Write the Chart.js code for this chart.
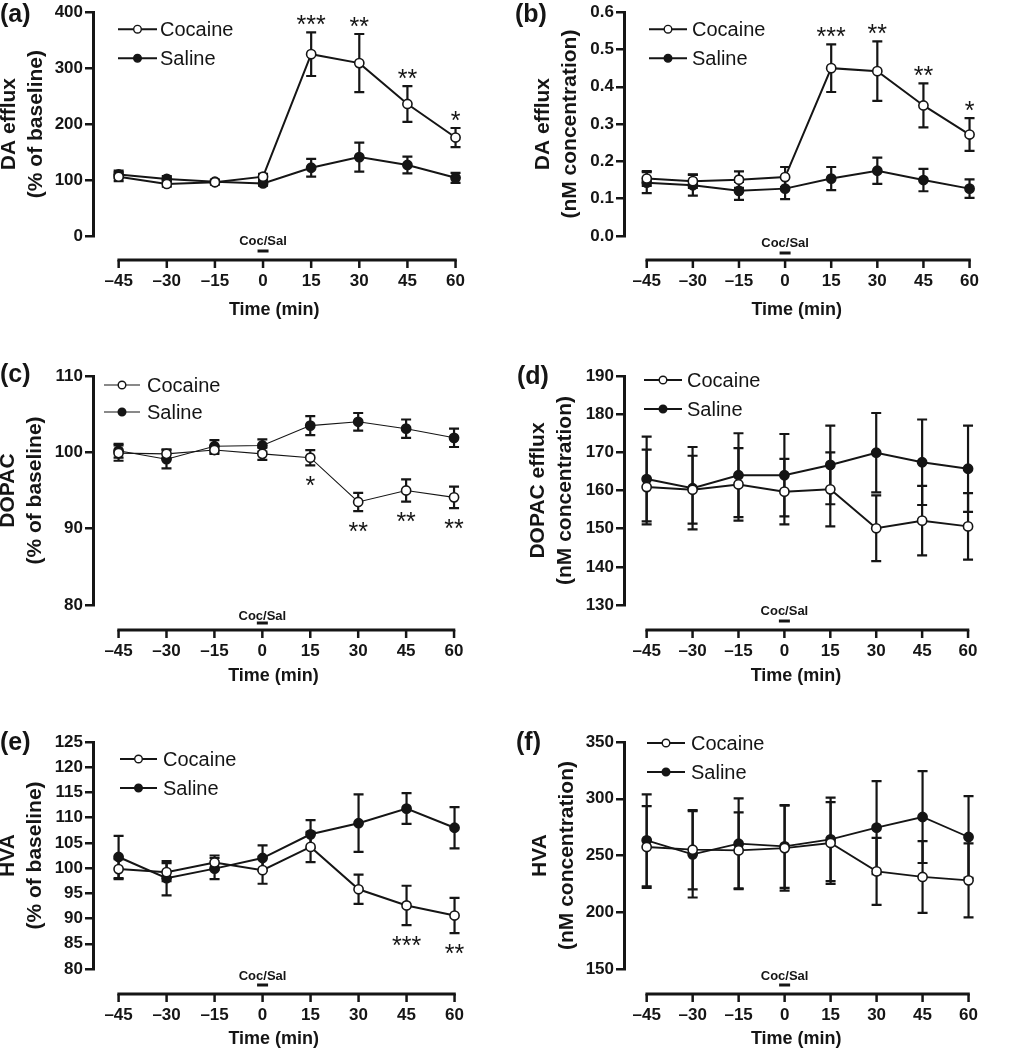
<!DOCTYPE html>
<html><head><meta charset="utf-8">
<script src="https://cdn.jsdelivr.net/npm/chart.js@4.4.1/dist/chart.umd.min.js"></script>
<style>
html,body{margin:0;padding:0;background:#fff}
body{position:relative;width:1014px;height:1050px;overflow:hidden}
.panel{position:absolute}
.panel canvas{display:block}
</style></head><body>
<div class="panel" style="left:0;top:0"><canvas id="ca" width="500" height="330"></canvas></div>
<div class="panel" style="left:500px;top:0"><canvas id="cb" width="514" height="330"></canvas></div>
<div class="panel" style="left:0;top:355px"><canvas id="cc" width="500" height="344"></canvas></div>
<div class="panel" style="left:500px;top:355px"><canvas id="cd" width="514" height="344"></canvas></div>
<div class="panel" style="left:0;top:721px"><canvas id="ce" width="500" height="329"></canvas></div>
<div class="panel" style="left:500px;top:721px"><canvas id="cf" width="514" height="329"></canvas></div>
<script>
// ---------------- DATA ----------------
const timePoints = [-45, -30, -15, 0, 15, 30, 45, 60];
const xTickLabels = ['\u201345', '\u201330', '\u201315', '0', '15', '30', '45', '60'];
const seriesNames = ['Cocaine', 'Saline'];
const xAxisTitle = 'Time (min)';
const injectionLabel = 'Coc/Sal';

// (a) DA efflux, % of baseline
const daPctCocaine    = [106, 93, 96, 106, 325, 309, 236, 176];
const daPctCocaineErr = [8, 5, 4, 5, 39, 52, 32, 17];
const daPctSaline     = [110, 102, 97, 94, 122, 141, 127, 104];
const daPctSalineErr  = [7, 5, 4, 4, 16, 26, 15, 9];
const daPctStarTimes  = [15, 30, 45, 60];
const daPctStars      = ['***', '**', '**', '*'];

// (b) DA efflux, nM
const daNmCocaine    = [0.154, 0.147, 0.151, 0.158, 0.450, 0.442, 0.350, 0.272];
const daNmCocaineErr = [0.020, 0.018, 0.022, 0.027, 0.064, 0.080, 0.059, 0.044];
const daNmSaline     = [0.143, 0.136, 0.121, 0.127, 0.154, 0.175, 0.150, 0.127];
const daNmSalineErr  = [0.028, 0.028, 0.024, 0.028, 0.031, 0.035, 0.030, 0.025];
const daNmStarTimes  = [15, 30, 45, 60];
const daNmStars      = ['***', '**', '**', '*'];

// (c) DOPAC, % of baseline
const dopacPctCocaine    = [99.9, 99.8, 100.3, 99.8, 99.3, 93.5, 95.0, 94.1];
const dopacPctCocaineErr = [1.0, 0.6, 0.5, 0.8, 1.0, 1.2, 1.45, 1.4];
const dopacPctSaline     = [100.2, 99.1, 100.8, 100.9, 103.5, 104.0, 103.1, 101.9];
const dopacPctSalineErr  = [0.9, 1.2, 0.8, 0.8, 1.25, 1.15, 1.2, 1.2];
const dopacPctStarTimes  = [15, 30, 45, 60];
const dopacPctStars      = ['*', '**', '**', '**'];

// (d) DOPAC efflux, nM
const dopacNmCocaine    = [160.9, 160.2, 161.6, 159.7, 160.3, 150.1, 152.1, 150.6];
const dopacNmCocaineErr = [9.8, 8.9, 9.5, 8.6, 9.7, 8.6, 9.1, 8.7];
const dopacNmSaline     = [163.0, 160.6, 164.0, 164.0, 166.7, 169.9, 167.4, 165.7];
const dopacNmSalineErr  = [11.1, 10.8, 11.0, 10.8, 10.3, 10.4, 11.2, 11.3];

// (e) HVA, % of baseline
const hvaPctCocaine    = [99.8, 99.2, 101.1, 99.6, 104.2, 95.8, 92.6, 90.6];
const hvaPctCocaineErr = [2.0, 1.8, 1.4, 2.7, 3.0, 2.9, 3.9, 3.5];
const hvaPctSaline     = [102.2, 98.0, 99.9, 102.0, 106.7, 108.9, 111.8, 108.0];
const hvaPctSalineErr  = [4.2, 3.4, 2.1, 2.5, 2.8, 5.7, 3.05, 4.1];
const hvaPctStarTimes  = [45, 60];
const hvaPctStars      = ['***', '**'];

// (f) HVA, nM
const hvaNmCocaine    = [257.5, 255.1, 254.5, 256.5, 261.0, 236.0, 231.1, 228.1];
const hvaNmCocaineErr = [36, 35, 33.5, 37.5, 36, 29.5, 31.6, 32.6];
const hvaNmSaline     = [263.4, 251.0, 260.4, 258.0, 264.2, 274.5, 283.9, 266.3];
const hvaNmSalineErr  = [40.5, 38, 40, 36.5, 36.8, 41, 40.5, 36];

// ---------------- STYLE / LAYOUT ----------------
const INK = '#151515';
const FONT = '"Liberation Sans", Arial, Helvetica, sans-serif';

const colLeft  = { yW: 93,  padRight: 26, xMin: -53 };
const colRight = { yW: 124, padRight: 10, xMin: -52.4 };
const row1 = { padTop: 7,  xH: 94, gap: 24, tickPad: 35,   titlePB: 9 };
const row2 = { padTop: 21, xH: 94, gap: 25, tickPad: 36.5, titlePB: 12 };
const row3 = { padTop: 21, xH: 81, gap: 25, tickPad: 36,   titlePB: 0 };

const panels = [
  { canvas: 'ca', label: '(a)', col: colLeft, row: row1,
    yTitle: ['DA efflux', '(% of baseline)'], yMin: 0, yMax: 400, yStep: 100, yDec: 0, yTitlePad: -4.5,
    coc: daPctCocaine, cocErr: daPctCocaineErr, sal: daPctSaline, salErr: daPctSalineErr,
    starT: daPctStarTimes, stars: daPctStars, starSide: 'above',
    lw: 2, labelPos: [0, 15], legend: { x: 25, len: 39, text: 67, y1: 17, y2: 46, lw: 2 },
    coc0: [-19, -9] },
  { canvas: 'cb', label: '(b)', col: colRight, row: row1,
    yTitle: ['DA efflux', '(nM concentration)'], yMin: 0, yMax: 0.6, yStep: 0.1, yDec: 1, yTitlePad: 29.5,
    coc: daNmCocaine, cocErr: daNmCocaineErr, sal: daNmSaline, salErr: daNmSalineErr,
    starT: daNmStarTimes, stars: daNmStars, starSide: 'above',
    lw: 2, labelPos: [15, 15], legend: { x: 25, len: 38, text: 68, y1: 17, y2: 46, lw: 2 },
    coc0: [-17, -7] },
  { canvas: 'cc', label: '(c)', col: colLeft, row: row2,
    yTitle: ['DOPAC', '(% of baseline)'], yMin: 80, yMax: 110, yStep: 10, yDec: 0, yTitlePad: -5.5,
    coc: dopacPctCocaine, cocErr: dopacPctCocaineErr, sal: dopacPctSaline, salErr: dopacPctSalineErr,
    starT: dopacPctStarTimes, stars: dopacPctStars, starSide: 'below',
    lw: 1.1, labelPos: [0, 20], legend: { x: 11, len: 36, text: 54, y1: 9, y2: 36, lw: 1.1 },
    coc0: [-14, -7] },
  { canvas: 'cd', label: '(d)', col: colRight, row: row2,
    yTitle: ['DOPAC efflux', '(nM concentration)'], yMin: 130, yMax: 190, yStep: 10, yDec: 0, yTitlePad: 25,
    coc: dopacNmCocaine, cocErr: dopacNmCocaineErr, sal: dopacNmSaline, salErr: dopacNmSalineErr,
    starT: [], stars: [], starSide: 'above',
    lw: 2, labelPos: [17, 22], legend: { x: 20, len: 38, text: 63, y1: 4, y2: 33, lw: 2 },
    coc0: [-19, -9] },
  { canvas: 'ce', label: '(e)', col: colLeft, row: row3,
    yTitle: ['HVA', '(% of baseline)'], yMin: 80, yMax: 125, yStep: 5, yDec: 0, yTitlePad: -5.5,
    coc: hvaPctCocaine, cocErr: hvaPctCocaineErr, sal: hvaPctSaline, salErr: hvaPctSalineErr,
    starT: hvaPctStarTimes, stars: hvaPctStars, starSide: 'below',
    lw: 2, labelPos: [0, 22], legend: { x: 27, len: 37, text: 70, y1: 17, y2: 46, lw: 2 },
    coc0: [-18, -9] },
  { canvas: 'cf', label: '(f)', col: colRight, row: row3,
    yTitle: ['HVA', '(nM concentration)'], yMin: 150, yMax: 350, yStep: 50, yDec: 0, yTitlePad: 26.5,
    coc: hvaNmCocaine, cocErr: hvaNmCocaineErr, sal: hvaNmSaline, salErr: hvaNmSalineErr,
    starT: [], stars: [], starSide: 'above',
    lw: 1.8, labelPos: [16, 22], legend: { x: 23, len: 38, text: 67, y1: 1, y2: 30, lw: 1.8 },
    coc0: [-18, -9] }
];

function decorPlugin(p) {
  const CAP = 5;
  return {
    id: 'decor',
    beforeDatasetsDraw(chart) {
      const ctx = chart.ctx, xs = chart.scales.x, ys = chart.scales.y;
      ctx.save();
      ctx.strokeStyle = INK;
      ctx.lineWidth = 2.2;
      ctx.lineCap = 'butt';
      [[p.sal, p.salErr], [p.coc, p.cocErr]].forEach(([vals, errs]) => {
        vals.forEach((v, i) => {
          const x = xs.getPixelForValue(timePoints[i]);
          const yt = ys.getPixelForValue(v + errs[i]);
          const yb = ys.getPixelForValue(v - errs[i]);
          ctx.beginPath();
          ctx.moveTo(x, yt); ctx.lineTo(x, yb);
          ctx.moveTo(x - CAP, yt); ctx.lineTo(x + CAP, yt);
          ctx.moveTo(x - CAP, yb); ctx.lineTo(x + CAP, yb);
          ctx.stroke();
        });
      });
      ctx.restore();
    },
    afterDraw(chart) {
      const ctx = chart.ctx, xs = chart.scales.x, ys = chart.scales.y, ca = chart.chartArea;
      ctx.save();
      // detached time axis
      const lineY = ca.bottom + p.row.gap;
      const x0 = xs.getPixelForValue(timePoints[0]);
      const x1 = xs.getPixelForValue(timePoints[timePoints.length - 1]);
      ctx.strokeStyle = INK;
      ctx.lineWidth = 3;
      ctx.beginPath(); ctx.moveTo(x0 - 1.25, lineY); ctx.lineTo(x1 + 1.25, lineY); ctx.stroke();
      ctx.lineWidth = 2.5;
      timePoints.forEach(t => {
        const x = xs.getPixelForValue(t);
        ctx.beginPath(); ctx.moveTo(x, lineY); ctx.lineTo(x, lineY + 8); ctx.stroke();
      });
      // injection marker
      const xi = xs.getPixelForValue(0);
      ctx.fillStyle = INK;
      ctx.font = 'bold 13px ' + FONT;
      ctx.textAlign = 'center'; ctx.textBaseline = 'middle';
      ctx.fillText(injectionLabel, xi, lineY + p.coc0[0]);
      ctx.lineWidth = 3;
      ctx.beginPath(); ctx.moveTo(xi - 5.5, lineY + p.coc0[1]); ctx.lineTo(xi + 5.5, lineY + p.coc0[1]); ctx.stroke();
      // significance stars
      ctx.font = '25px ' + FONT;
      ctx.textBaseline = 'alphabetic';
      p.starT.forEach((t, k) => {
        const i = timePoints.indexOf(t);
        const x = xs.getPixelForValue(t);
        let yc;
        if (p.starSide === 'above') yc = ys.getPixelForValue(p.coc[i] + p.cocErr[i]) - 14;
        else yc = ys.getPixelForValue(p.coc[i] - p.cocErr[i]) + 14;
        ctx.fillText(p.stars[k], x, yc + 14.5);
      });
      // legend
      const L = p.legend;
      [0, 1].forEach(k => {
        const y = ca.top + (k === 0 ? L.y1 : L.y2);
        const lx = ca.left + L.x;
        ctx.lineWidth = L.lw;
        ctx.beginPath(); ctx.moveTo(lx, y); ctx.lineTo(lx + L.len, y); ctx.stroke();
        ctx.beginPath(); ctx.arc(lx + L.len / 2, y, 3.8, 0, Math.PI * 2);
        ctx.fillStyle = k === 0 ? '#fff' : INK; ctx.fill();
        ctx.lineWidth = 1.4; ctx.stroke();
        ctx.fillStyle = INK;
        ctx.font = '20px ' + FONT;
        ctx.textAlign = 'left'; ctx.textBaseline = 'middle';
        ctx.fillText(seriesNames[k], ca.left + L.text, y + 1);
      });
      // panel label
      ctx.font = 'bold 25px ' + FONT;
      ctx.textAlign = 'left'; ctx.textBaseline = 'middle';
      ctx.fillText(p.label, p.labelPos[0], p.labelPos[1]);
      ctx.restore();
    }
  };
}

function buildPanel(p) {
  const mk = (vals) => timePoints.map((t, i) => ({ x: t, y: vals[i] }));
  new Chart(document.getElementById(p.canvas), {
    type: 'line',
    data: {
      datasets: [
        { label: seriesNames[0], data: mk(p.coc), borderColor: INK, borderWidth: p.lw,
          pointRadius: 4.6, pointBorderWidth: 1.6, pointBackgroundColor: '#fff', pointBorderColor: INK,
          tension: 0, clip: false },
        { label: seriesNames[1], data: mk(p.sal), borderColor: INK, borderWidth: p.lw,
          pointRadius: 4.6, pointBorderWidth: 1.6, pointBackgroundColor: INK, pointBorderColor: INK,
          tension: 0, clip: false }
      ]
    },
    options: {
      responsive: false, animation: false, devicePixelRatio: 1,
      layout: { padding: { left: 0, top: p.row.padTop, right: p.col.padRight, bottom: 0 } },
      plugins: { legend: { display: false }, tooltip: { enabled: false } },
      scales: {
        x: {
          type: 'linear', min: p.col.xMin, max: 60,
          afterBuildTicks: s => { s.ticks = timePoints.map(v => ({ value: v })); },
          afterFit: s => { s.height = p.row.xH; },
          grid: { display: false, drawTicks: false },
          border: { display: false },
          ticks: { autoSkip: false, maxRotation: 0, padding: p.row.tickPad, color: INK,
                   font: { family: FONT, size: 17, weight: 'bold' },
                   callback: v => xTickLabels[timePoints.indexOf(v)] },
          title: { display: true, text: xAxisTitle, color: INK,
                   font: { family: FONT, size: 18, weight: 'bold' },
                   padding: { top: 0, bottom: p.row.titlePB } }
        },
        y: {
          min: p.yMin, max: p.yMax,
          afterFit: s => { s.width = p.col.yW; },
          grid: { display: true, drawOnChartArea: false, drawTicks: true, tickLength: 8, color: INK, lineWidth: 2.5 },
          border: { display: true, color: INK, width: 3 },
          ticks: { stepSize: p.yStep, padding: 2, color: INK,
                   font: { family: FONT, size: 17, weight: 'bold' },
                   callback: v => Number(v).toFixed(p.yDec) },
          title: { display: true, text: p.yTitle, color: INK,
                   font: { family: FONT, size: 21, weight: 'bold', lineHeight: 27 / 21 },
                   padding: { top: p.yTitlePad, bottom: 0 } }
        }
      }
    },
    plugins: [decorPlugin(p)]
  });
}

panels.forEach(buildPanel);
</script>
</body></html>
